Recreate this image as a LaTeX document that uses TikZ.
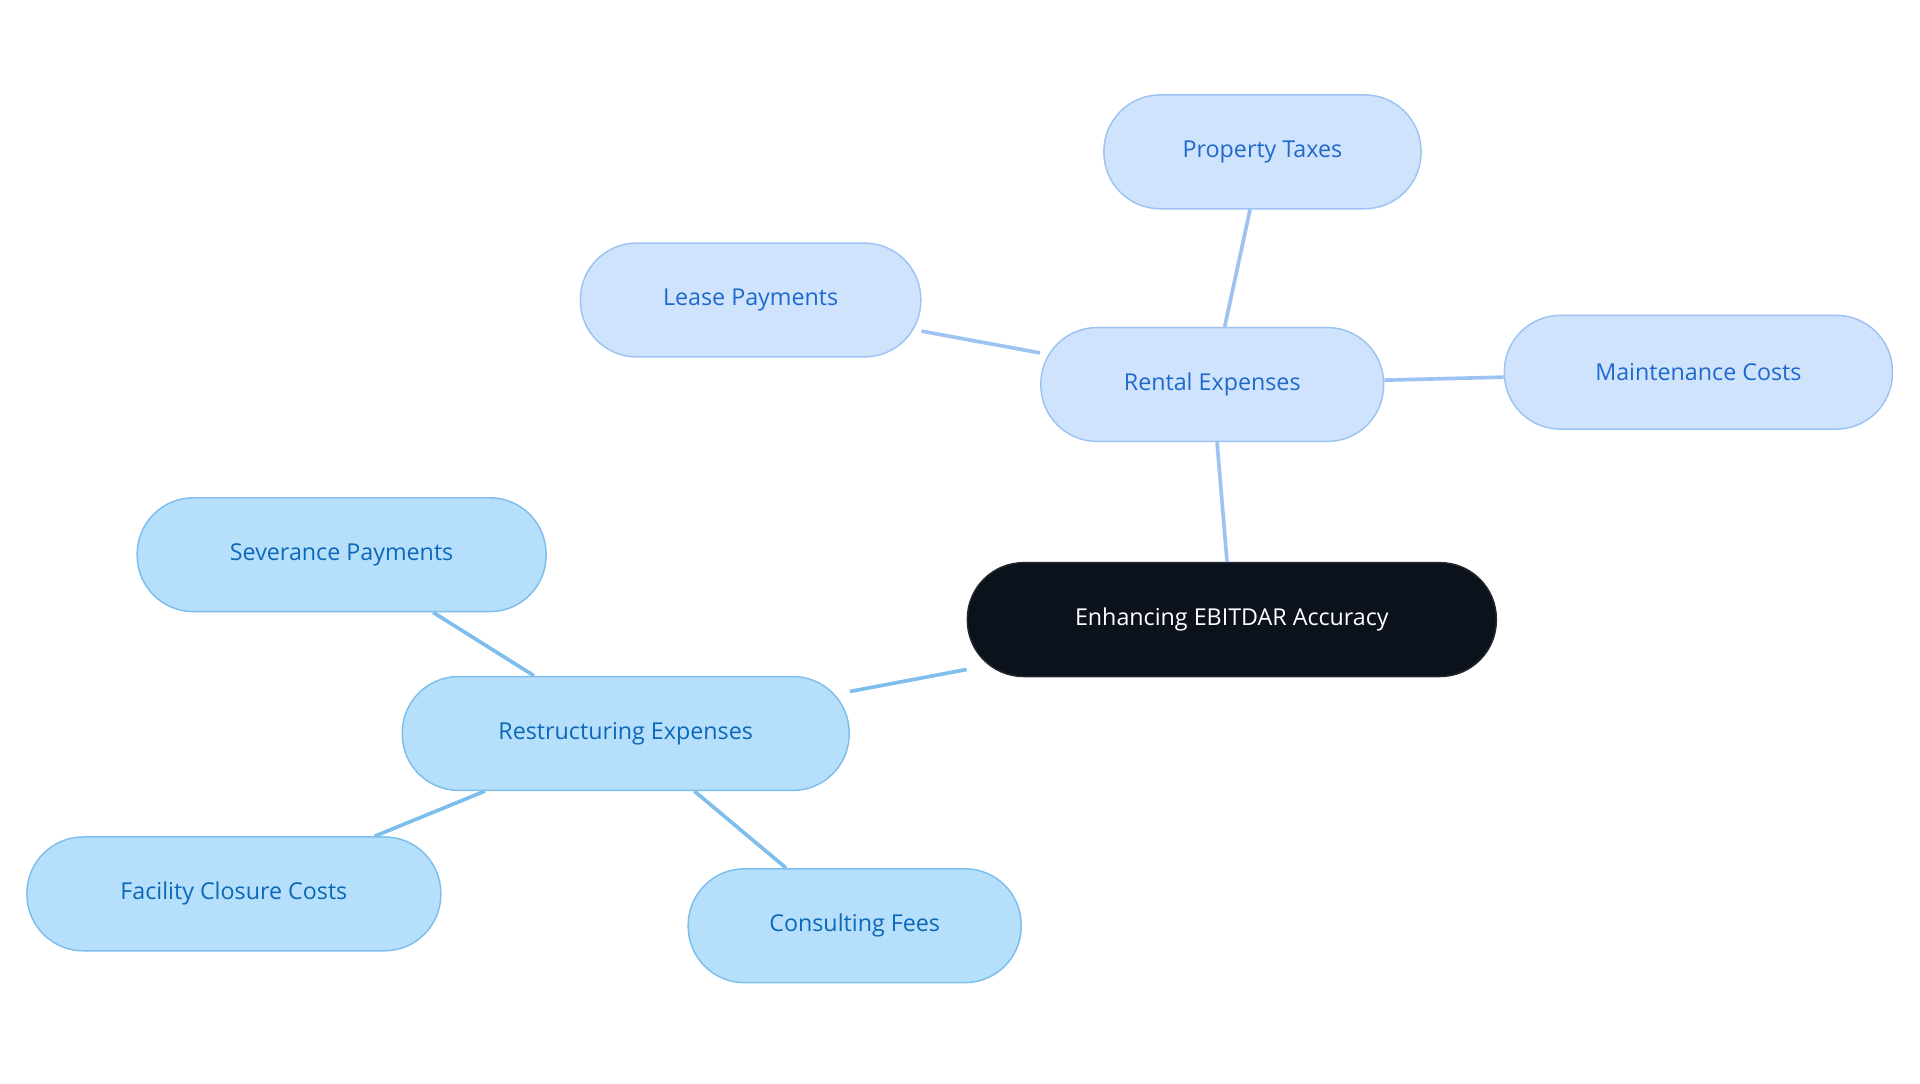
\documentclass[tikz,border=0pt]{standalone}
\usepackage{fontspec}
\setmainfont{Open Sans}
\usetikzlibrary{positioning}
\definecolor{rootfill}{HTML}{0C121B}
\definecolor{rentfill}{HTML}{CFE4FC}
\definecolor{rentline}{HTML}{9CC3F1}
\definecolor{renttext}{HTML}{1F68CC}
\definecolor{restfill}{HTML}{B6DFFC}
\definecolor{restline}{HTML}{7DBEEC}
\definecolor{resttext}{HTML}{0C68B8}
\tikzset{
  box/.style={rounded corners=46pt, minimum height=93pt, inner sep=0pt, font=\fontsize{19}{22}\selectfont, line width=1.2pt},
  root/.style={box, fill=rootfill, draw=rootfill!80!gray, text=white},
  rent/.style={box, fill=rentfill, draw=rentline, text=renttext},
  rest/.style={box, fill=restfill, draw=restline, text=resttext},
  rentlink/.style={draw=rentline, line width=3pt},
  restlink/.style={draw=restline, line width=3pt},
}
\begin{document}
\begin{tikzpicture}[x=1pt, y=-1pt]
  \useasboundingbox (0,0) rectangle (1568,885);
  \node[root, minimum width=432pt] (ebitdar) at (1006,506) {Enhancing EBITDAR Accuracy};
  \node[rent, minimum width=280pt] (rental) at (990,314) {Rental Expenses};
  \node[rent, minimum width=259pt] (taxes) at (1031,124) {Property Taxes};
  \node[rent, minimum width=278pt] (lease) at (613,245) {Lease Payments};
  \node[rent, minimum width=317pt] (maint) at (1387,304) {Maintenance Costs};
  \node[rest, minimum width=365pt] (restr) at (511,599) {Restructuring Expenses};
  \node[rest, minimum width=334pt] (sever) at (279,453) {Severance Payments};
  \node[rest, minimum width=338pt] (closure) at (191,730) {Facility Closure Costs};
  \node[rest, minimum width=272pt] (consult) at (698,756) {Consulting Fees};

  \draw[rentlink] (ebitdar) -- (rental);
  \draw[rentlink] (rental) -- (taxes);
  \draw[rentlink] (rental) -- (lease);
  \draw[rentlink] (rental) -- (maint);
  \draw[restlink] (ebitdar) -- (restr);
  \draw[restlink] (restr) -- (sever);
  \draw[restlink] (restr) -- (closure);
  \draw[restlink] (restr) -- (consult);
\end{tikzpicture}
\end{document}
